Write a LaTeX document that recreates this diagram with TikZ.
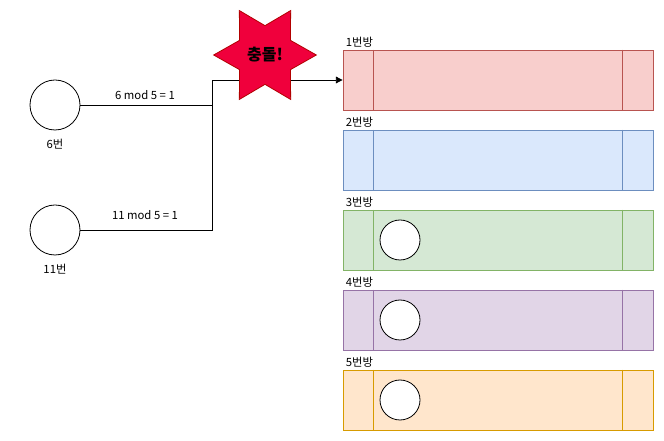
\documentclass[tikz,border=0pt]{standalone}
\usepackage{fontspec}
\setmainfont{Noto Sans CJK KR}
\usetikzlibrary{shapes.geometric,arrows.meta}
\definecolor{rF}{HTML}{F8CECC}\definecolor{rS}{HTML}{B85450}
\definecolor{bF}{HTML}{DAE8FC}\definecolor{bS}{HTML}{6C8EBF}
\definecolor{gF}{HTML}{D5E8D4}\definecolor{gS}{HTML}{82B366}
\definecolor{pF}{HTML}{E1D5E7}\definecolor{pS}{HTML}{9673A6}
\definecolor{oF}{HTML}{FFE6CC}\definecolor{oS}{HTML}{D79B00}
\definecolor{starF}{HTML}{F0003C}\definecolor{starS}{HTML}{B20000}
\tikzset{
  room/.style={draw=#1S,fill=#1F,rectangle,minimum width=232.5pt,minimum height=45pt,inner sep=0pt,line width=0.6pt},
  key/.style={draw,fill=white,circle,minimum size=37.5pt,inner sep=0pt,line width=0.6pt},
  ball/.style={draw,fill=white,circle,minimum size=30pt,inner sep=0pt,line width=0.6pt},
  lbl/.style={font=\fontsize{8.5pt}{10pt}\selectfont,inner sep=0pt},
  wire/.style={draw,line width=0.6pt},
}
\begin{document}
\begin{tikzpicture}[x=0.75pt,y=-0.75pt]
\useasboundingbox (0,0) rectangle (664,441);
% rooms
\foreach \c/\y/\n in {r/80/1,b/160/2,g/240/3,p/320/4,o/400/5}{
  \node[room=\c] (room\n) at (498,\y) {};
  \draw[\c S,line width=0.6pt] ([xshift=23.25pt]room\n.north west) -- ([xshift=23.25pt]room\n.south west);
  \draw[\c S,line width=0.6pt] ([xshift=-23.25pt]room\n.north east) -- ([xshift=-23.25pt]room\n.south east);
  \node[lbl,anchor=south west] (rl\n) at ([xshift=2.25pt,yshift=1.5pt]room\n.north west) {\n{}번방};
}
\node[ball] (b3) at (400,240) {};
\node[ball] (b4) at (400,320) {};
\node[ball] (b5) at (400,400) {};
% keys
\node[key] (k6) at (55,105) {};
\node[key] (k11) at (55,230) {};
\node[lbl] (k6l) at (55,144) {6번};
\node[lbl] (k11l) at (55,269) {11번};
\coordinate (j) at (212,80);
\draw[wire] (k6.east) -- (212,105) -- (j);
\draw[wire] (k11.east) -- (212,230) -- (j);
\draw[wire,-{Triangle[length=5pt,width=5pt]}] (j) -- (room1.west);
\node[lbl] (m6) at (145,95) {6 mod 5 = 1};
\node[lbl] (m11) at (145,215) {11 mod 5 = 1};
% star
\node[star,star points=6,star point ratio=1.75,shape border rotate=30,minimum size=77pt,inner sep=0pt,fill=starF,draw=starS,line width=0.6pt,font=\fontsize{12pt}{14pt}\selectfont\bfseries] (crash) at (265,55) {충돌!};
\end{tikzpicture}
\end{document}
